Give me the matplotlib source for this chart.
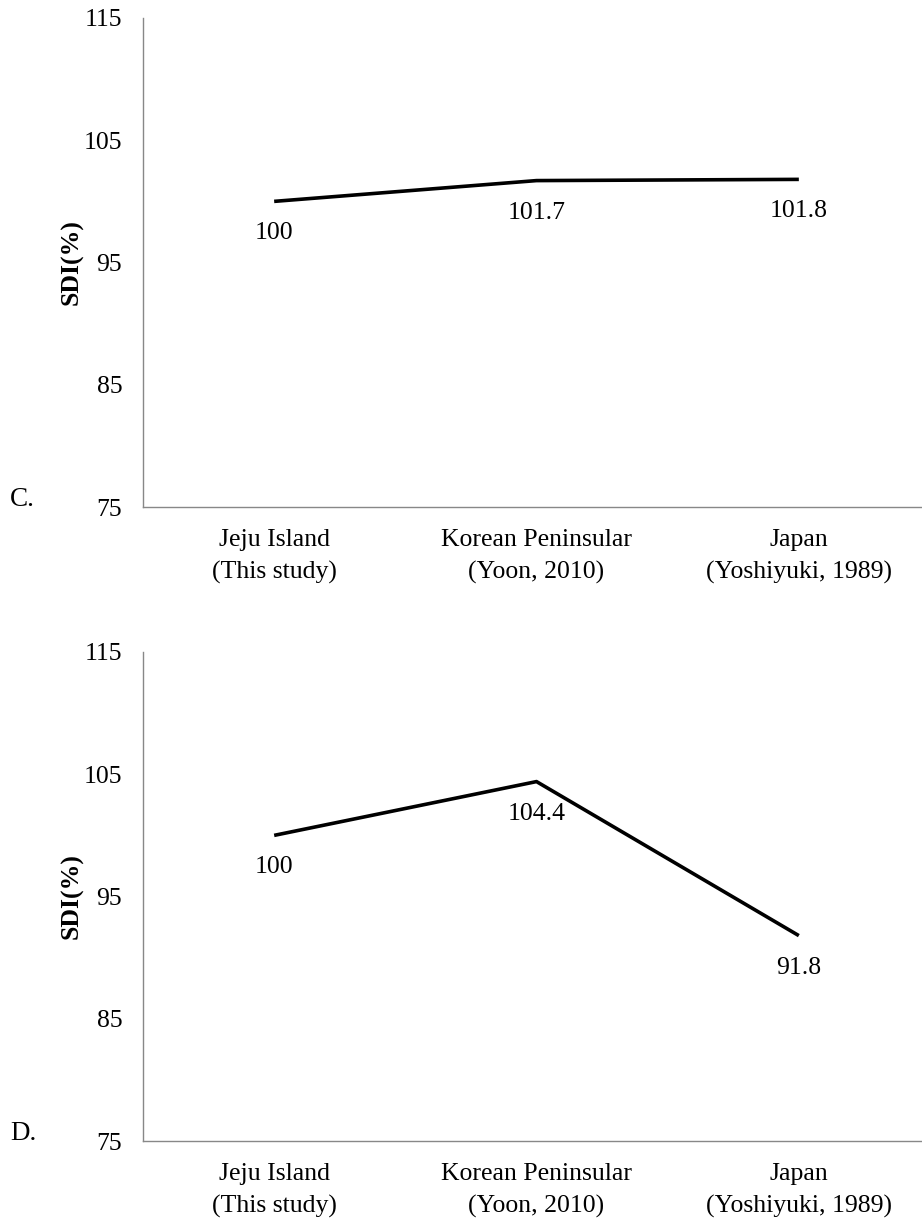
import numpy as np
import matplotlib
matplotlib.use('Agg')
import matplotlib.pyplot as plt

plt.rcParams['font.family'] = ['Liberation Serif', 'DejaVu Serif']

categories = ['Jeju Island\n(This study)', 'Korean Peninsular\n(Yoon, 2010)', 'Japan\n(Yoshiyuki, 1989)']
sdi_c = [100, 101.7, 101.8]
sdi_d = [100, 104.4, 91.8]
panel_names = ['C.', 'D.']
y_ticks = [75, 85, 95, 105, 115]

fig = plt.figure(figsize=(9.22, 12.24), dpi=100)

W, H = 922.0, 1224.0
fs = 18.5


def draw_panel(top_px, values, name):
    ax = fig.add_axes([143 / W, 1 - (top_px + 489) / H, 787 / W, 489 / H])
    x = np.arange(len(values))
    ax.plot(x, values, color='black', lw=2.6, solid_capstyle='butt')
    for xi, v in zip(x, values):
        ax.annotate('%g' % v, (xi, v), xytext=(0, -23), textcoords='offset points',
                    ha='center', va='center', fontsize=fs)
    ax.set_xlim(-0.5, 2.5)
    ax.set_ylim(75, 115)
    ax.set_yticks(y_ticks)
    ax.set_xticks(x)
    ax.set_xticklabels(categories, fontsize=fs, linespacing=1.55)
    ax.tick_params(axis='both', length=0, labelsize=fs)
    ax.tick_params(axis='x', pad=16)
    ax.tick_params(axis='y', pad=15)
    for s in ['top', 'right']:
        ax.spines[s].set_visible(False)
    for s in ['left', 'bottom']:
        ax.spines[s].set_color('#888888')
        ax.spines[s].set_linewidth(1.0)
    # y label placed by pixel position
    fig.text(72 / W, 1 - (top_px + 244) / H, 'SDI(%)', rotation=90, fontsize=fs,
             fontweight='bold', ha='center', va='center')
    fig.text(10 / W, 1 - (top_px + 482) / H, name, fontsize=fs + 1, ha='left', va='center')
    return ax


draw_panel(18, sdi_c, panel_names[0])
draw_panel(652, sdi_d, panel_names[1])

fig.savefig('out.png', dpi=100)
